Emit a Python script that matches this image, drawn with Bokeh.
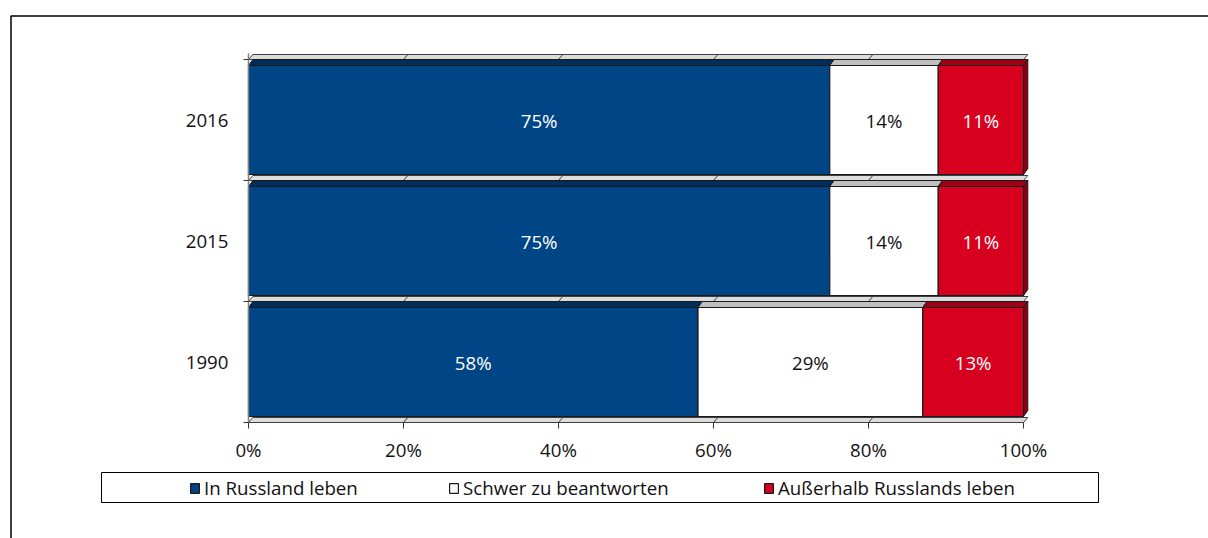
import numpy as np
from bokeh.plotting import figure
from bokeh.models import (Range1d, FixedTicker, Legend, LegendItem,
                          BoxAnnotation, ColumnDataSource)
from bokeh.embed import file_html
from bokeh.resources import INLINE
from bokeh.core.properties import value

# ---------------- data ----------------
years = ["1990", "2015", "2016"]
in_russland = [58, 75, 75]
schwer = [29, 14, 14]
ausserhalb = [13, 11, 11]
series_names = ["In Russland leben", "Schwer zu beantworten", "Außerhalb Russlands leben"]
x_ticks = [0, 20, 40, 60, 80, 100]
x_tick_labels = ["0%", "20%", "40%", "60%", "80%", "100%"]

# ---------------- style / layout ----------------
FONT = "Open Sans"
FS = "18.7px"
front_colors = ["#004586", "#ffffff", "#d7001f"]
top_colors = ["#002d5a", "#bfbfbf", "#9e0016"]
label_colors = ["#ffffff", "#111111", "#ffffff"]
side_color = "#8a0012"
edge = "#1a1a1a"

W, H = 1208, 538
PX0, PX100 = 248.0, 1023.0          # pixel x of 0% and 100%
PY_BOT = 422.0                      # pixel y of lower category boundary
PX_PER_CAT = 121.0
px_x = (PX100 - PX0) / 100.0


def sx2d(px):
    return (px - PX0) / px_x


def sy2d(py):
    return -0.5 + (PY_BOT - py) / PX_PER_CAT


def dxp(px):
    return px / px_x


def dyp(px):
    return px / PX_PER_CAT


DX = dxp(4.3)
TOPH = dyp(6)
BOTG = dyp(6)
STRIP = dyp(5)

p = figure(width=W, height=H, title=None,
           x_range=Range1d(sx2d(0), sx2d(W)), y_range=Range1d(sy2d(H), sy2d(0)),
           output_backend="svg", toolbar_location=None,
           min_border=0, min_border_left=0, min_border_right=0,
           min_border_top=0, min_border_bottom=0)
p.xgrid.visible = False
p.ygrid.visible = False
p.outline_line_color = None
p.background_fill_color = "white"
p.border_fill_color = "white"

ypos = np.arange(len(years), dtype=float)
bounds = list(np.arange(len(years) + 1) - 0.5)
full = float(in_russland[0] + schwer[0] + ausserhalb[0])

# floor / back strips at category boundaries
p.patches(xs=[[0, full, full + DX, DX] for b in bounds],
          ys=[[b, b, b + STRIP, b + STRIP] for b in bounds],
          fill_color="#dcdcdc", line_color="#404040", line_width=1)
gx0, gx1, gy0, gy1 = [], [], [], []
for b in bounds:
    for g in x_ticks[1:-1]:
        gx0.append(g); gx1.append(g + DX); gy0.append(b); gy1.append(b + STRIP)
p.segment(x0=gx0, y0=gy0, x1=gx1, y1=gy1, line_color="#404040", line_width=1)

values = [in_russland, schwer, ausserhalb]
cum = np.zeros(len(years))
renderers = []
for k, vals in enumerate(values):
    v = np.array(vals, dtype=float)
    left = cum.copy()
    right = cum + v
    # top face (3D)
    p.patches(xs=[[l, r, r + DX, l + DX] for l, r in zip(left, right)],
              ys=[[c + 0.5 - TOPH, c + 0.5 - TOPH, c + 0.5, c + 0.5] for c in ypos],
              fill_color=top_colors[k], line_color=edge, line_width=1)
    src = ColumnDataSource(dict(left=left, right=right,
                                bottom=ypos - 0.5 + BOTG, top=ypos + 0.5 - TOPH))
    r = p.quad(left="left", right="right", bottom="bottom", top="top", source=src,
               fill_color=front_colors[k], line_color=edge, line_width=1.2)
    renderers.append(r)
    if k == len(values) - 1:
        # right side face (3D)
        p.patches(xs=[[rr, rr + DX, rr + DX, rr] for rr in right],
                  ys=[[c - 0.5 + BOTG, c - 0.5 + BOTG + TOPH, c + 0.5, c + 0.5 - TOPH] for c in ypos],
                  fill_color=side_color, line_color=edge, line_width=1)
    p.text(x=(left + right) / 2, y=ypos, text=[f"{int(t)}%" for t in v],
           text_align="center", text_baseline="middle",
           text_color=label_colors[k], text_font=value(FONT), text_font_size=FS)
    cum = right

# axes drawn at fixed data locations inside the full-canvas frame
p.xaxis.fixed_location = -0.5
p.xaxis.bounds = (0, 100)
p.xaxis.ticker = FixedTicker(ticks=x_ticks)
p.xaxis.major_label_overrides = {t: l for t, l in zip(x_ticks, x_tick_labels)}
p.xaxis.axis_line_color = None
p.xaxis.major_tick_out = 6
p.xaxis.major_tick_in = 0
p.xaxis.minor_tick_line_color = None
p.xaxis.major_tick_line_color = "#333333"
p.xaxis.major_label_standoff = 8
p.xaxis.major_label_text_font = FONT
p.xaxis.major_label_text_font_size = FS
p.xaxis.major_label_text_color = "#111111"

p.yaxis.fixed_location = 0
p.yaxis.bounds = (-0.5, sy2d(53))
p.yaxis.ticker = FixedTicker(ticks=list(ypos), minor_ticks=bounds)
p.yaxis.major_label_overrides = {float(c): y for c, y in zip(ypos, years)}
p.yaxis.major_tick_out = 0
p.yaxis.major_tick_in = 0
p.yaxis.minor_tick_out = 5
p.yaxis.minor_tick_in = 0
p.yaxis.minor_tick_line_color = "#333333"
p.yaxis.axis_line_color = "#808080"
p.yaxis.axis_line_width = 1.5
p.yaxis.major_label_standoff = 15
p.yaxis.major_label_text_font = FONT
p.yaxis.major_label_text_font_size = FS
p.yaxis.major_label_text_color = "#111111"

# chart border (left and top edges visible)
p.add_layout(BoxAnnotation(left=sx2d(10.5), right=sx2d(1500), top=sy2d(15.5), bottom=sy2d(800),
                           fill_alpha=0, line_color="#000000", line_alpha=1, line_width=1.5))
# legend border
p.add_layout(BoxAnnotation(left=sx2d(101), right=sx2d(1098), top=sy2d(472), bottom=sy2d(502),
                           fill_alpha=0, line_color="#000000", line_alpha=1, line_width=1))

for name, r, gx in zip(series_names, renderers, [189, 448, 763]):
    lg = Legend(items=[LegendItem(label=value(name), renderers=[r])],
                location=(gx, H - 500), orientation="horizontal",
                padding=0, margin=0, spacing=0, glyph_width=11, glyph_height=12,
                label_standoff=4, border_line_color=None, background_fill_alpha=0,
                label_text_font=FONT, label_text_font_size=FS, label_height=12,
                label_text_color="#111111")
    p.add_layout(lg)

open("out.html", "w").write(file_html(p, INLINE))
